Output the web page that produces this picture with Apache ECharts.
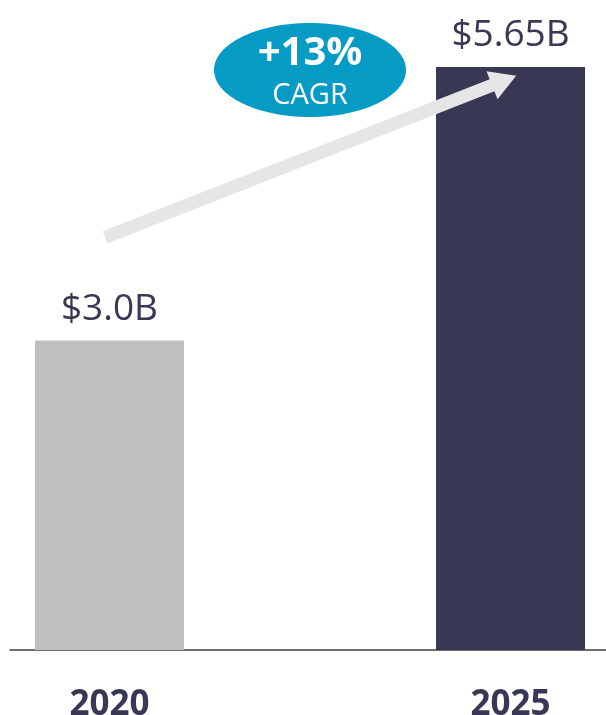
<!DOCTYPE html>
<html><head><meta charset="utf-8">
<script src="https://cdn.jsdelivr.net/npm/echarts@6/dist/echarts.min.js"></script>
<style>html,body{margin:0;padding:0;background:#fff}#c{width:606px;height:715px}</style>
</head><body><div id="c"></div>
<script>
const categories = ['2020', '2025'];
const values = [3.0, 5.65];
const valueLabels = ['$3.0B', '$5.65B'];
const barColors = ['#BFBFBF', '#383754'];
const cagrText = ['+13%', 'CAGR'];
// arrow from/to in data units (x: category index, y: value)
const arrowFrom = [-0.011, 4.0];
const arrowTo = [0.984, 5.52];

const chart = echarts.init(document.getElementById('c'), null, {renderer: 'canvas'});
const font = '"Open Sans", "Noto Sans", sans-serif';
chart.setOption({
  animation: false,
  grid: [
    {left: 10, right: 0, top: 31, bottom: 65, outerBoundsMode: 'none', containLabel: false},
    {left: 109.5, right: 95.5, top: 31, bottom: 65, outerBoundsMode: 'none', containLabel: false}
  ],
  xAxis: [
    {type: 'value', gridIndex: 0, min: -0.248, max: 1.238, splitLine: {show: false},
     axisLabel: {show: false}, axisTick: {show: false},
     axisLine: {show: true, onZero: false, lineStyle: {color: '#404040', width: 1.5}}},
    {type: 'category', gridIndex: 1, data: categories, boundaryGap: false,
     axisLine: {show: false}, axisTick: {show: false},
     axisLabel: {show: true, margin: 38, fontSize: 35, fontWeight: 'bold', color: '#383754', fontFamily: font}}
  ],
  yAxis: [
    {type: 'value', gridIndex: 0, min: 0, max: 6, show: false},
    {type: 'value', gridIndex: 1, min: 0, max: 6, show: false}
  ],
  series: [{
    type: 'bar',
    xAxisIndex: 0, yAxisIndex: 0,
    barWidth: 149,
    data: values.map((v, i) => ({value: [i, v], itemStyle: {color: barColors[i]}})),
    label: {
      show: true, position: 'top', distance: 13,
      formatter: p => valueLabels[p.dataIndex],
      fontSize: 37, color: '#383754', fontFamily: font
    },
    markLine: {
      silent: true,
      symbol: ['none', 'triangle'],
      symbolSize: [30, 26],
      label: {show: false},
      lineStyle: {color: '#E6E6E6', width: 13, type: 'solid', opacity: 1},
      data: [[{coord: arrowFrom}, {coord: arrowTo}]]
    }
  }],
  graphic: [
    {type: 'ellipse', shape: {cx: 310, cy: 70, rx: 96, ry: 47}, style: {fill: '#059BC5'}, z: 10},
    {type: 'text', x: 310, y: 54, z: 11, style: {text: cagrText[0], fill: '#fff', font: 'bold 40px ' + font, align: 'center', verticalAlign: 'middle'}},
    {type: 'text', x: 310, y: 96, z: 11, style: {text: cagrText[1], fill: '#fff', font: '29px ' + font, align: 'center', verticalAlign: 'middle'}}
  ]
});
</script></body></html>
